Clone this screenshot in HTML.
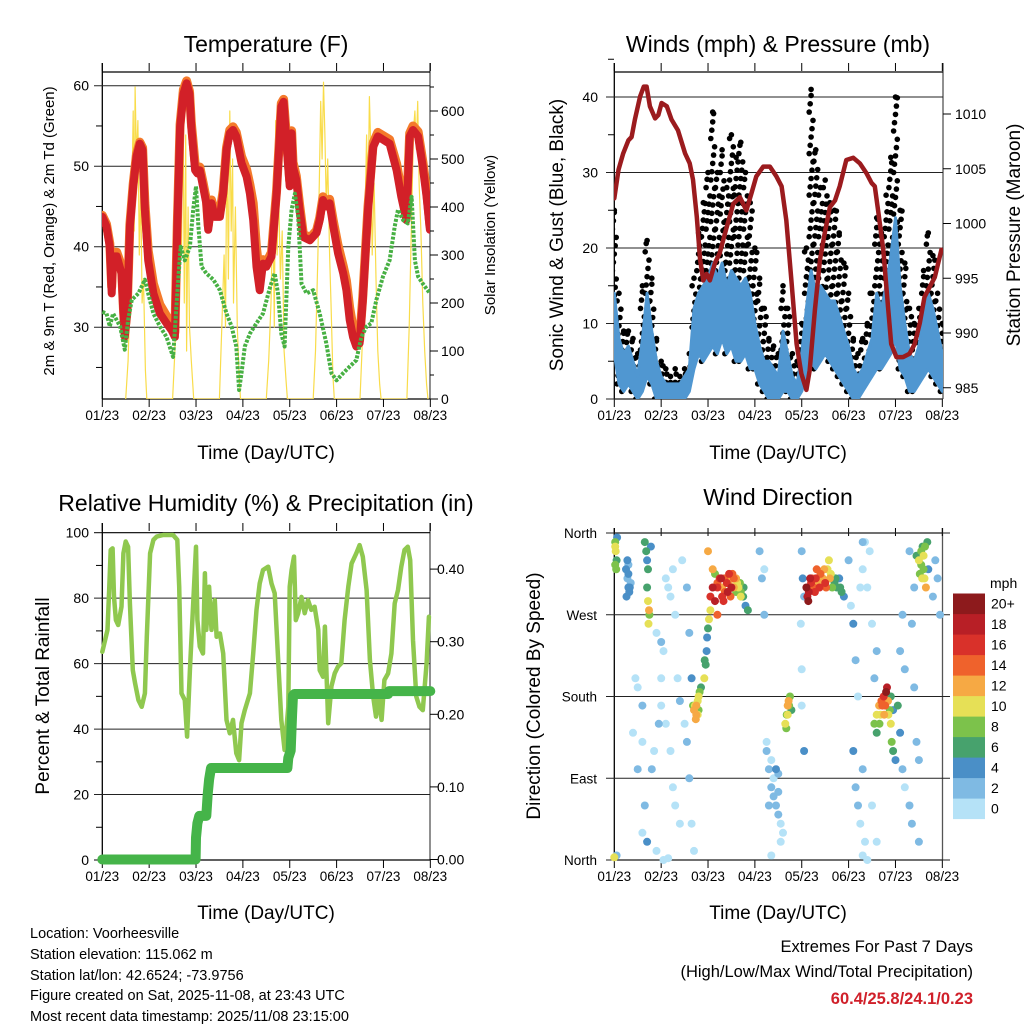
<!DOCTYPE html>
<html><head><meta charset="utf-8"><style>
html,body{margin:0;padding:0;background:#fff;}
svg{display:block;font-family:"Liberation Sans",sans-serif;}
</style></head><body>
<svg id="fig" width="1024" height="1024" viewBox="0 0 1024 1024" xmlns="http://www.w3.org/2000/svg">
<defs>
<clipPath id="c1"><rect x="102" y="63" width="328" height="336"/></clipPath>
<clipPath id="c2"><rect x="614" y="63" width="329" height="336"/></clipPath>
<clipPath id="c3"><rect x="96" y="523" width="345" height="345"/></clipPath>
<clipPath id="c4"><rect x="608" y="528" width="340" height="337"/></clipPath>
</defs>
<text x="266" y="52" font-size="23" text-anchor="middle">Temperature (F)</text>
<text x="778" y="52" font-size="23" text-anchor="middle">Winds (mph) &amp; Pressure (mb)</text>
<text x="266" y="511" font-size="23" text-anchor="middle">Relative Humidity (%) &amp; Precipitation (in)</text>
<text x="778" y="505" font-size="23" text-anchor="middle">Wind Direction</text>
<text x="266" y="459" font-size="19" text-anchor="middle">Time (Day/UTC)</text>
<text x="778" y="459" font-size="19" text-anchor="middle">Time (Day/UTC)</text>
<text x="266" y="919" font-size="19" text-anchor="middle">Time (Day/UTC)</text>
<text x="778" y="919" font-size="19" text-anchor="middle">Time (Day/UTC)</text>
<text transform="translate(54,231) rotate(-90)" font-size="15" text-anchor="middle">2m &amp; 9m T (Red, Orange) &amp; 2m Td (Green)</text>
<text transform="translate(495,235) rotate(-90)" font-size="15" text-anchor="middle">Solar Insolation (Yellow)</text>
<text transform="translate(563,235) rotate(-90)" font-size="19" text-anchor="middle">Sonic Wind &amp; Gust (Blue, Black)</text>
<text transform="translate(1020,235) rotate(-90)" font-size="19" text-anchor="middle">Station Pressure (Maroon)</text>
<text transform="translate(49,696) rotate(-90)" font-size="19" text-anchor="middle">Percent &amp; Total Rainfall</text>
<text transform="translate(540,696) rotate(-90)" font-size="19" text-anchor="middle">Direction (Colored By Speed)</text>
<g font-size="14.5">
<text x="30" y="938">Location: Voorheesville</text>
<text x="30" y="959">Station elevation: 115.062 m</text>
<text x="30" y="980">Station lat/lon: 42.6524; -73.9756</text>
<text x="30" y="1000">Figure created on Sat, 2025-11-08, at 23:43 UTC</text>
<text x="30" y="1021">Most recent data timestamp: 2025/11/08 23:15:00</text>
</g>
<g text-anchor="end">
<text x="973" y="952" font-size="16.5">Extremes For Past 7 Days</text>
<text x="973" y="977" font-size="16.5">(High/Low/Max Wind/Total Precipitation)</text>
<text x="973" y="1004" font-size="16.5" font-weight="bold" fill="#d0202a">60.4/25.8/24.1/0.23</text>
</g>
<g id="layer"></g>
</svg>
<script>
// ---------- DATA ----------
const dayTicks = ["01/23","02/23","03/23","04/23","05/23","06/23","07/23","08/23"];
const tTime = [0,.09,.16,.2,.23,.31,.41,.45,.48,.53,.59,.66,.73,.80,.86,.91,.98,1.09,1.23,1.37,1.48,1.55,1.60,1.66,1.73,1.80,1.86,1.90,1.98,2.03,2.08,2.15,2.22,2.26,2.33,2.40,2.51,2.58,2.65,2.72,2.79,2.86,2.97,3.08,3.15,3.22,3.29,3.36,3.43,3.50,3.61,3.72,3.82,3.87,3.93,4.0,4.04,4.07,4.14,4.21,4.29,4.43,4.57,4.64,4.71,4.78,4.85,4.93,5.03,5.14,5.21,5.28,5.35,5.42,5.49,5.56,5.67,5.78,5.88,5.99,6.13,6.28,6.38,6.49,6.56,6.63,6.74,6.84,6.92,6.99];
const tRed = [43.7,42.5,40.0,34.2,38.8,38.8,36.7,31.7,28.8,31.7,42.5,47.5,51.2,52.8,52.0,44.6,38.3,34.2,31.7,30.5,29.6,28.8,42.5,54.9,59.0,60.3,59.0,54.9,49.5,49.1,49.5,47.5,45.4,42.1,45.4,43.7,43.7,46.6,52.0,54.1,54.5,53.7,50.4,48.7,46.6,43.3,37.5,34.6,37.9,37.5,38.8,46.6,57.4,58.0,52.8,47.5,54.1,49.9,48.3,44.6,41.2,40.8,41.7,43.3,45.8,45.0,45.4,42.5,39.2,36.7,34.6,30.9,28.8,27.6,28.0,33.3,44.6,52.4,53.7,53.3,52.8,49.5,46.2,43.3,53.7,54.5,53.7,49.9,46.2,42.1];
const tOrange = [43.9,42.8,40.4,35.0,39.3,39.3,37.6,32.4,29.4,32.0,42.8,47.8,51.5,53.0,52.3,45.4,39.5,35.4,32.8,31.4,30.4,29.4,42.8,55.2,59.5,60.6,59.3,55.4,50.3,49.6,49.9,48.0,45.9,42.6,45.8,44.3,44.3,47.0,52.3,54.5,54.9,54.2,51.2,49.6,47.7,45.4,39.8,36.4,38.4,38.0,39.3,47.0,57.8,58.3,53.5,48.2,54.4,50.5,48.8,45.2,41.6,41.1,42.0,43.6,46.2,45.5,45.9,43.2,40.2,37.6,35.8,32.4,30.0,28.0,28.4,33.8,45.0,52.9,54.2,53.8,53.3,50.3,47.0,44.0,54.1,55.0,54.3,50.6,47.0,42.6];
const tdTime = [0,.09,.16,.23,.38,.48,.55,.63,.77,.91,.98,1.09,1.23,1.37,1.51,1.60,1.67,1.76,1.87,1.94,2.0,2.05,2.12,2.22,2.37,2.51,2.65,2.76,2.86,2.92,2.97,3.04,3.15,3.29,3.43,3.58,3.68,3.75,3.82,3.89,3.97,4.04,4.11,4.18,4.25,4.36,4.50,4.64,4.78,4.89,5.0,5.14,5.28,5.42,5.53,5.64,5.74,5.85,5.99,6.13,6.24,6.31,6.42,6.52,6.60,6.67,6.74,6.84,6.99];
const tdVal = [31.9,31.7,30.1,31.7,30.1,27.2,30.9,33.4,34.2,35.9,34.2,31.7,30.1,28.8,26.3,34.2,40.0,38.3,40.0,44.6,47.5,42.5,37.5,36.7,35.9,34.6,31.7,30.1,27.6,22.2,24.3,27.6,29.2,30.5,31.7,35.0,36.7,34.2,29.2,27.6,40.0,44.6,46.6,43.7,35.4,34.2,34.6,31.7,28.0,24.3,23.4,24.3,25.1,25.9,28.8,30.1,30.5,33.4,36.3,38.3,42.5,44.6,43.3,42.9,46.2,38.3,36.3,35.4,34.2];
const solarTime = [0.5,0.55,0.6,0.63,0.66,0.68,0.7,0.73,0.76,0.79,0.82,0.85,0.88,0.92,0.95, 1.5,1.55,1.6,1.63,1.66,1.69,1.72,1.75,1.78,1.8,1.83,1.86,1.9,1.95, 2.5,2.55,2.6,2.63,2.66,2.69,2.72,2.75,2.78,2.8,2.84,2.88,2.92,2.95, 3.5,3.55,3.6,3.64,3.67,3.7,3.73,3.76,3.8,3.84,3.88,3.92,3.95, 4.5,4.55,4.6,4.63,4.66,4.69,4.72,4.75,4.78,4.81,4.85,4.88,4.92,4.95, 5.5,5.55,5.6,5.64,5.67,5.7,5.73,5.76,5.8,5.84,5.88,5.92,5.95, 6.5,6.55,6.6,6.64,6.67,6.7,6.73,6.76,6.8,6.84,6.88,6.92,6.95];
const solarVal = [0,80,250,420,600,350,650,500,580,300,450,200,250,60,0, 0,100,380,200,500,300,660,200,550,100,400,150,80,0, 0,150,300,150,550,250,600,350,500,200,400,150,50,0, 0,80,200,400,150,580,300,450,250,350,100,40,0, 0,100,300,450,620,500,660,550,400,500,300,200,50,0, 0,120,350,550,400,630,520,300,450,250,100,30,0, 0,150,380,560,600,520,620,450,350,200,100,30,0];
const pTime = [0,.09,.19,.30,.37,.44,.55,.63,.69,.76,.87,.94,1.01,1.12,1.22,1.36,1.51,1.61,1.68,1.76,1.83,1.90,1.97,2.04,2.15,2.25,2.40,2.54,2.61,2.68,2.82,2.93,3.03,3.18,3.32,3.46,3.57,3.67,3.78,3.89,3.99,4.10,4.17,4.28,4.39,4.49,4.60,4.71,4.81,4.95,5.10,5.24,5.38,5.49,5.56,5.63,5.74,5.84,5.91,6.02,6.16,6.30,6.41,6.52,6.62,6.73,6.84,6.98];
const pVal = [1002.3,1004.9,1006.4,1007.6,1007.9,1009.5,1011.6,1012.5,1012.5,1010.7,1009.6,1009.9,1011.0,1010.7,1009.5,1008.5,1006.4,1005.5,1004.0,1000.6,996.7,994.8,995.4,994.8,996.4,997.3,999.7,1001.8,1002.1,1002.4,1001.2,1002.8,1004.3,1005.2,1005.2,1004.3,1003.4,1000.3,994.8,989.0,986.3,984.8,986.6,992.1,996.7,999.1,1001.5,1002.1,1003.4,1005.8,1006.0,1005.5,1004.6,1003.7,1003.4,1001.2,997.6,992.4,989.0,987.8,987.8,988.1,989.0,990.9,993.3,994.2,995.1,997.6];
const wTime = [0,.1,.2,.3,.4,.5,.6,.7,.8,.9,1.0,1.1,1.2,1.3,1.4,1.5,1.6,1.7,1.8,1.9,2.0,2.1,2.2,2.3,2.4,2.5,2.6,2.7,2.8,2.9,3.0,3.1,3.2,3.3,3.4,3.5,3.6,3.7,3.8,3.9,4.0,4.1,4.2,4.3,4.4,4.5,4.6,4.7,4.8,4.9,5.0,5.1,5.2,5.3,5.4,5.5,5.6,5.7,5.8,5.9,6.0,6.1,6.2,6.3,6.4,6.5,6.6,6.7,6.8,6.9,7.0];
const windLo = [6,2,1,2,1,0,1,3,2,0,0,0,0,0,0,0,1,4,6,5,6,7,6,8,6,7,5,5,6,4,4,2,1,0,0,0,1,1,0,0,1,3,5,4,5,6,5,4,3,2,1,0,0,1,2,3,4,4,5,6,8,4,3,1,1,2,3,4,3,2,1];
const windHi = [14,8,6,7,5,3,8,14,9,5,3,2,2,2,2,3,4,12,14,15,16,18,16,18,15,17,16,15,16,14,10,7,5,5,4,3,9,6,3,2,6,12,17,14,15,14,13,13,11,9,7,4,3,4,6,8,14,12,15,19,24,15,10,6,5,7,11,14,12,9,6];
const gust = [25,14,9,9,8,6,15,21,16,8,5,4,3,4,3,4,6,16,22,26,30,38,30,33,28,35,32,34,30,26,20,16,12,8,7,6,15,12,6,5,10,20,41,33,28,29,26,25,22,18,14,8,6,8,10,14,24,22,27,32,40,25,18,12,10,12,17,22,19,14,10];
const dirTime = [0.02,0.03,0.05,0.02,0.06,0.0,0.05, 0.25,0.28,0.3,0.32,0.26,0.35,0.3, 0.65,0.68,0.7,0.72,0.7,0.72,0.74,0.75,0.73,0.78, 0.9,1.0,1.05,1.1,1.15,1.2,1.25,1.3,1.35,1.4,1.0,1.1,1.2,1.25,1.3,1.4,0.45,0.4,0.5,0.6,0.65,0.7,0.6,0.5,0.6,1.5,1.55,1.6,1.65,1.7,1.45,1.55,1.6,1.65,0.9,1.05,1.15,1.0,0.95,0.85,0.8, 1.7,1.72,1.75,1.78,1.8,1.8,1.74,1.68,1.82,1.85, 1.92,1.95,1.97,1.98,2.0,2.02,2.05,1.93, 2.05,2.1,2.15,2.2,2.25,2.3,2.35,2.4,2.45,2.5,2.55,2.6,2.65,2.7,2.75,2.8,2.3,2.42,2.1,2.0,2.2,2.55,2.15,2.85,2.62,2.5,2.7, 3.1,3.15,3.2,3.25,3.3,3.35,3.4,3.45,3.5,3.55,3.4,3.3,3.5,3.6,3.45,3.35,3.2,3.25,3.5,3.55,3.35, 3.65,3.68,3.7,3.72,3.75,3.67,3.78, 4.0,4.02,4.05,3.98,4.0,4.05,4.0, 4.1,4.15,4.2,4.25,4.3,4.35,4.4,4.45,4.5,4.55,4.6,4.12,4.22,4.38,4.48,4.58,4.7,4.75,4.8,4.85,4.65,4.9, 5.0,5.05,5.1,5.15,5.2,5.25,5.3,5.1,5.15,5.2,5.25,5.3,5.35,5.3,5.4,5.35, 5.55,5.6,5.65,5.7,5.75,5.8,5.82,5.78,5.68,5.6,5.85,5.9,5.92,5.95,6.0,5.9,6.05,6.1,6.15,5.95, 6.5,6.55,6.6,6.62,6.65,6.58,6.52,6.68,6.45,6.4,6.35,6.4,6.45,6.5,6.7,6.8,6.85,6.9,6.95,6.3,6.35,6.5, 5.4,5.5,5.6,5.45,5.55,5.5,5.6,6.1,6.15,6.2,6.2,6.3,5.3, 2.2,2.28,2.36,2.44,2.52,2.6,2.68,2.76,2.33,2.48, 4.18,4.28,4.42,4.52,4.62,4.72,4.82,4.14,4.32, 5.72,5.76,5.66,5.84,5.88, 6.55,6.6,6.63,6.57, 0.3,0.33,0.28, 1.75,1.78, 3.7,3.73, 0.02,0.04];
const dirDeg = [350,340,330,325,355,3,5, 320,310,300,295,290,305,325, 350,340,330,320,300,285,275,270,260,345, 250,240,230,310,300,290,320,270,200,175,170,150,120,80,60,40,200,140,100,130,60,20,30,190,170,150,130,90,40,10,330,300,250,200,10,0,2,200,150,120,100, 165,170,160,175,180,165,155,170,185,190, 200,215,230,245,255,265,275,220, 290,300,285,305,310,300,310,305,315,300,310,295,300,295,290,280,290,295,320,340,270,300,315,275,305,310,290, 340,310,270,120,100,80,70,60,50,40,90,60,75,30,100,110,320,130,95,20,5, 150,160,170,175,180,145,165, 340,310,290,260,210,120,170, 300,295,305,300,310,305,315,310,305,320,310,290,310,300,320,330,305,300,310,295,300,290, 330,280,260,220,180,300,350,120,80,60,40,100,20,5,0,350, 150,160,170,175,180,185,190,170,160,140,160,150,130,120,110,180,170,140,100,165, 330,340,320,310,300,345,315,350,335,300,260,190,130,110,320,290,330,310,270,340,40,20, 300,260,230,340,200,60,20,230,270,210,80,60,320, 300,310,295,305,315,310,305,300,285,290, 310,295,305,300,315,310,300,285,320, 170,160,150,175,165, 325,335,345,310, 315,300,330, 170,160, 160,170, 345,320];
const dirSpd = [9,10,7,8,5,10,3, 4,3,4,5,4,3,2, 6,7,5,6,7,11,12,9,11,5, 1,2,1,0,1,1,0,1,1,2,1,0,0,1,0,1,1,1,2,1,2,4,1,1,2,1,2,2,1,0,1,2,3,4,0,0,0,1,3,1,2, 12,11,12,10,11,8,12,9,9,6, 10,6,4,4,7,10,11,6, 16,18,18,14,16,12,14,16,16,18,14,8,10,8,6,4,16,18,12,12,14,12,8,6,10,12,10, 3,2,3,2,2,3,2,3,2,1,1,2,2,1,4,1,1,1,3,1,0, 10,9,12,12,8,8,6, 3,4,2,1,1,4,1, 20,18,16,14,16,12,14,12,16,10,12,18,14,16,12,10,6,6,4,6,8,4, 2,1,4,3,1,1,2,4,3,2,1,2,1,1,0,1, 8,10,12,14,16,20,18,14,10,6,10,10,8,6,5,6,6,4,3,4, 10,8,9,10,12,6,9,7,6,3,2,2,2,2,4,3,2,3,2,3,2,2, 1,1,2,1,3,1,1,3,2,3,1,2,1, 16,18,14,12,14,12,8,6,16,14, 18,16,12,14,10,6,6,20,14, 14,12,8,12,8, 8,10,8,10, 4,4,5, 12,10, 10,8, 10,8];
const rhTime = [0,.06,.11,.15,.18,.22,.25,.29,.34,.41,.45,.50,.55,.59,.65,.70,.77,.84,.91,.95,1.02,1.09,1.16,1.30,1.51,1.60,1.64,1.69,1.76,1.81,1.87,1.94,2.0,2.03,2.08,2.15,2.19,2.22,2.28,2.33,2.40,2.44,2.51,2.58,2.65,2.72,2.79,2.86,2.92,2.97,3.04,3.15,3.22,3.29,3.36,3.43,3.54,3.61,3.68,3.75,3.82,3.89,3.97,4.0,4.04,4.09,4.13,4.18,4.25,4.32,4.39,4.46,4.53,4.61,4.64,4.71,4.75,4.82,4.89,4.96,5.03,5.10,5.17,5.25,5.32,5.42,5.49,5.56,5.64,5.71,5.78,5.84,5.89,5.96,6.02,6.10,6.17,6.24,6.31,6.38,6.45,6.52,6.57,6.63,6.70,6.77,6.84,6.92,6.97];
const rhVal = [63.6,67.2,70.3,83.5,94.7,95.2,80.4,73.3,71.8,77.4,93.7,97.3,95.7,78.4,58.0,54.0,48.9,46.8,50.9,68.2,93.7,97.8,98.8,99.3,99.3,97.8,83.5,50.9,48.9,37.7,58.0,78.4,95.7,73.3,65.2,63.1,87.6,70.3,83.5,70.3,79.4,68.2,69.2,63.1,42.8,38.7,42.8,32.6,30.5,41.8,45.8,50.9,63.1,76.4,84.5,88.6,89.6,84.5,81.5,62.1,42.8,33.6,46.8,83.5,88.6,92.7,73.3,75.4,80.4,75.4,79.4,76.4,77.4,70.3,58.0,56.0,71.3,41.8,53.0,57.0,59.1,60.1,73.3,83.5,90.6,93.7,96.2,92.7,82.5,61.1,49.9,43.8,49.9,42.8,55.0,57.0,63.1,78.4,82.5,89.6,94.7,95.7,91.6,67.2,49.9,46.8,45.8,60.1,74.3];
const precipTime = [0,1.99,2.0,2.03,2.07,2.22,2.25,2.28,2.32,3.95,3.97,4.02,4.05,4.07,4.1,6.1,6.12,7.0];
const precipVal = [0,0,0.03,0.05,0.06,0.06,0.09,0.11,0.126,0.126,0.14,0.15,0.2,0.226,0.228,0.228,0.232,0.232];
const tempTicks = [30,40,50,60];
const solarTicks = [0,100,200,300,400,500,600];
const windTicks = [0,10,20,30,40];
const presTicks = [985,990,995,1000,1005,1010];
const rhTicks = [0,20,40,60,80,100];
const precipTicks = [0,0.1,0.2,0.3,0.4];
const dirTicks = [0,90,180,270,360];
const dirLabels = ["North","East","South","West","North"];
const speedBins = ["0","2","4","6","8","10","12","14","16","18","20+"];
const speedColors = ["#b5e2f7","#7fbae3","#4a8fc7","#47a26d","#7cc24b","#e6e056","#f6a944","#ef622c","#d9312a","#b81f26","#8d1a1c"];

// ---------- HELPERS ----------
const NS = "http://www.w3.org/2000/svg";
const layer = document.getElementById("layer");
function mk(tag, attrs, parent) {
  const e = document.createElementNS(NS, tag);
  for (const k in attrs) e.setAttribute(k, attrs[k]);
  (parent || layer).appendChild(e);
  return e;
}
const DAY = 46.86;
const xA = d => 102.3 + d * DAY;
const xB = d => 614.3 + d * DAY;
const yT = v => 85.7 + (60 - v) * 8.05;
const yS = v => 399 - v * 0.48;
const yW = v => 399 - v * 7.55;
const yP = p => 114 + (1010 - p) * 10.95;
const yR = v => 860 - v * 3.273;
const yPr = v => 859.5 - v * 726;
const yD = d => 860 - d / 360 * 327;
function pts(ts, vs, fx, fy) { return ts.map((t, i) => fx(t).toFixed(1) + "," + fy(vs[i]).toFixed(1)).join(" "); }

function frame(x0, x1, yTop, yLine, yBot, fx, name) {
  const g = mk("g", {});
  
  
  mk("line", {x1:x0,y1:yTop,x2:x0,y2:yBot,stroke:"#000","stroke-width":1.3}, g);
  mk("line", {x1:x1,y1:yTop,x2:x1,y2:yBot,stroke:"#555","stroke-width":1.3}, g);
  mk("line", {x1:x0,y1:yBot,x2:x1,y2:yBot,stroke:"#000","stroke-width":1.3}, g);
  mk("line", {x1:x0,y1:yLine,x2:x1,y2:yLine,stroke:"#000","stroke-width":1.2}, g);
  dayTicks.forEach((lab, i) => {
    const x = fx(i);
    mk("line", {x1:x,y1:yTop,x2:x,y2:yTop+8,stroke:"#000","stroke-width":1}, g);
    mk("line", {x1:x,y1:yBot,x2:x,y2:yBot+8,stroke:"#000","stroke-width":1}, g);
    const t = mk("text", {x:x,y:yBot+21,"font-size":13.5,"text-anchor":"middle"}, g);
    t.textContent = lab;
    
    
  });
  return g;
}

// ---------- PANEL 1: TEMPERATURE ----------
frame(102.3, 430, 63, 72, 399, xA, "temperature");
tempTicks.forEach(v => {
  mk("line", {x1:94,y1:yT(v),x2:430,y2:yT(v),stroke:"#222","stroke-width":1});
  const t = mk("text", {x:89,y:yT(v)+5,"font-size":14,"text-anchor":"end"});
  t.textContent = v;
  
  
  mk("line", {x1:96,y1:yT(v-5),x2:102,y2:yT(v-5),stroke:"#000","stroke-width":1});
});
solarTicks.forEach(v => {
  mk("line", {x1:430,y1:yS(v),x2:438,y2:yS(v),stroke:"#000","stroke-width":1});
  mk("line", {x1:430,y1:yS(v+50),x2:434,y2:yS(v+50),stroke:"#000","stroke-width":1});
  const t = mk("text", {x:441,y:yS(v)+5,"font-size":14});
  t.textContent = v;
  
  
});
const g1 = mk("g", {"clip-path":"url(#c1)"});
const sol = mk("polyline", {points:pts(solarTime, solarVal, xA, yS),fill:"none",stroke:"#f9dc4a","stroke-width":1.2,"stroke-linejoin":"round"}, g1);


const to = mk("polyline", {points:pts(tTime, tOrange, xA, yT),fill:"none",stroke:"#f47a2b","stroke-width":9,"stroke-linejoin":"round","stroke-linecap":"round"}, g1);


const tr = mk("polyline", {points:pts(tTime, tRed, xA, yT),fill:"none",stroke:"#d22028","stroke-width":8,"stroke-linejoin":"round","stroke-linecap":"round"}, g1);


const td = mk("polyline", {points:pts(tdTime, tdVal, xA, yT),fill:"none",stroke:"#47b043","stroke-width":4,"stroke-dasharray":"3 1.5","stroke-linejoin":"round"}, g1);



// ---------- PANEL 2: WINDS ----------
frame(614.3, 943, 63, 72, 399, xB, "winds");
windTicks.forEach(v => {
  mk("line", {x1:606,y1:yW(v),x2:943,y2:yW(v),stroke:"#222","stroke-width":1});
  const t = mk("text", {x:598,y:yW(v)+5,"font-size":14,"text-anchor":"end"});
  t.textContent = v;
  
  
  mk("line", {x1:608,y1:yW(v+5),x2:614,y2:yW(v+5),stroke:"#000","stroke-width":1});
});
presTicks.forEach(v => {
  mk("line", {x1:943,y1:yP(v),x2:951,y2:yP(v),stroke:"#000","stroke-width":1});
  const t = mk("text", {x:955,y:yP(v)+5,"font-size":14});
  t.textContent = v;
  
  
});
const g2 = mk("g", {"clip-path":"url(#c2)"});
const gg = mk("g", {fill:"#000"}, g2);


wTime.forEach((t, i) => {
  const lo = Math.max(windLo[i], 0), hi = gust[i];
  let k = 0;
  for (let v = lo; v <= hi; v += 1.1, k++) {
    const off = ((k % 5) - 2) * 0.02;
    const c = mk("circle", {cx:xB(t + off).toFixed(1), cy:yW(v).toFixed(1), r:2.8}, gg);
    
    
  }
  const c2 = mk("circle", {cx:xB(t).toFixed(1), cy:yW(hi).toFixed(1), r:2.8}, gg);
  
  
});
const bandPts = pts(wTime, windHi, xB, yW) + " " + pts(wTime.slice().reverse(), windLo.slice().reverse(), xB, yW);
const band = mk("polygon", {points:bandPts,fill:"#5097d1",stroke:"#5097d1","stroke-width":3,"stroke-linejoin":"round"}, g2);


const pl = mk("polyline", {points:pts(pTime, pVal, xB, yP),fill:"none",stroke:"#9b1b1e","stroke-width":4.5,"stroke-linejoin":"round","stroke-linecap":"round"}, g2);



// ---------- PANEL 3: RH & PRECIP ----------
frame(102.3, 430, 523, 532.7, 860, xA, "humidity");
rhTicks.forEach(v => {
  if (v > 0 && v < 100) mk("line", {x1:94,y1:yR(v),x2:430,y2:yR(v),stroke:"#222","stroke-width":1});
  else mk("line", {x1:94,y1:yR(v),x2:102,y2:yR(v),stroke:"#000","stroke-width":1});
  if (v < 100) mk("line", {x1:96,y1:yR(v+10),x2:102,y2:yR(v+10),stroke:"#000","stroke-width":1});
  const t = mk("text", {x:89,y:yR(v)+5,"font-size":14,"text-anchor":"end"});
  t.textContent = v;
  
  
});
precipTicks.forEach(v => {
  mk("line", {x1:430,y1:yPr(v),x2:438,y2:yPr(v),stroke:"#000","stroke-width":1});
  const t = mk("text", {x:437,y:yPr(v)+5,"font-size":14});
  t.textContent = v.toFixed(2);
  
  
});
const g3 = mk("g", {"clip-path":"url(#c3)"});
const rh = mk("polyline", {points:pts(rhTime, rhVal, xA, yR),fill:"none",stroke:"#8fc84f","stroke-width":4.5,"stroke-linejoin":"round","stroke-linecap":"round"}, g3);


const pr = mk("polyline", {points:pts(precipTime, precipVal, xA, yPr),fill:"none",stroke:"#45b449","stroke-width":10,"stroke-linejoin":"round","stroke-linecap":"round"}, g3);



// ---------- PANEL 4: WIND DIRECTION ----------
frame(614.3, 942.5, 528, 533, 860, xB, "wind-direction");
dirTicks.forEach((v, i) => {
  mk("line", {x1:606,y1:yD(v),x2:950,y2:yD(v),stroke:"#222","stroke-width":1});
  const t = mk("text", {x:597,y:yD(v)+5,"font-size":13.5,"text-anchor":"end"});
  t.textContent = dirLabels[i];
  
  
});
const g4 = mk("g", {"clip-path":"url(#c4)"});
const order = dirSpd.map((s, i) => i).sort((a, b) => dirSpd[a] - dirSpd[b]);
order.forEach(i => {
  const b = Math.min(10, Math.floor(dirSpd[i] / 2));
  const c = mk("circle", {cx:xB(dirTime[i]).toFixed(1), cy:yD(dirDeg[i]).toFixed(1), r:4, fill:speedColors[b]}, g4);
  
  
});
// colorbar
const cb = mk("g", {});


const mt = mk("text", {x:990,y:588,"font-size":14}, cb);
mt.textContent = "mph";
speedBins.forEach((lab, i) => {
  const k = speedBins.length - 1 - i;
  const y = 593.5 + k * 20.5;
  const r = mk("rect", {x:953,y:y,width:32,height:20.6,fill:speedColors[i]}, cb);
  
  
  const t = mk("text", {x:991,y:y+15,"font-size":14}, cb);
  t.textContent = lab;
  
  
});
</script>
</body></html>
